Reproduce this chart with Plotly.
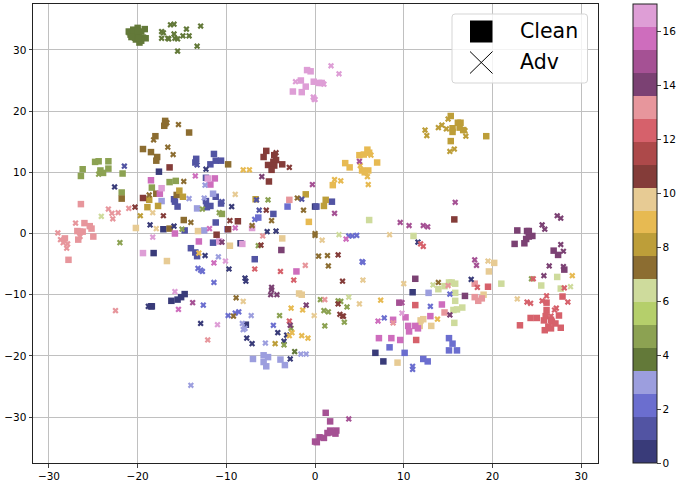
import plotly.graph_objects as go

clean_0 = [(-17.6,10.1),(-17.1,0.7),(0,4.4),(-18.2,-3.2),(-8.4,-1.6),(-18.5,-11.9),(-18.4,-11.9),(-16.2,-11),(-15.5,-10.8),(-15.1,-10.4),(-14.7,-9.9),(-7.8,-14.9),(6.8,-19.5),(7.7,-20.9),(11,-9.6)]
adv_0 = [(-22.6,7.6),(-12.3,10.5),(-18.6,1.4),(-15.9,1.2),(-9.4,4.4),(-5.4,0.3),(-4.4,0.4),(-9.7,-5.8),(-7.9,-7.3),(-7.8,-7.8),(-12.9,-14.7),(-7.7,-17.1),(-7.1,-18),(-2.8,-20.5),(-3.5,-17.6),(-3.2,-16.6),(-4.2,-16.2),(-18.8,-11.9),(-12.4,-3.6),(17.6,-7.5),(11.6,-1.4)]
clean_1 = [(-13.4,12.2),(-11.4,13),(-13.5,11.6),(-11.8,11.3),(-11.2,11.9),(-10.6,11.9),(-12.3,9.1),(-15.9,5.6),(-15.8,5.2),(-15.5,4.4),(-12.3,5.3),(-11.2,6),(-10.6,4.9),(-11.8,4.5),(-12.2,4.3),(-11.2,1.8),(-4.7,3.2),(-14.7,0.5),(-11.5,-1.5),(-14,-2.4),(-13.5,-3.1),(-13.3,-3.7),(-6.8,-4.2),(1.9,5.2),(0.15,4.4)]
adv_1 = [(-21.5,11),(-13.3,11.2),(-10.5,5.2),(-6.3,3.8),(-6.6,5.5),(-1.5,5.6)]
clean_2 = [(-3.1,4.4),(-6.4,2.6),(8.4,-18.6),(15.1,-17.1),(15.5,-18),(15.1,-19.1),(16,-19.1),(12.2,-20.5),(12.7,-20.9),(10.1,-19.5)]
adv_2 = [(-13.2,-5.7),(-12.9,-6),(-12.7,-6.2),(-11.4,-8),(-12.6,-11.7),(-9.8,-13.4),(-9,-13),(-8.6,-12.8),(-4.7,-15),(-6.8,2.3),(5.3,-4.6),(5.4,-4.7),(7.8,-13.8),(13,-11.9),(15.2,-9.9),(11,-21.7),(11,-22.2),(3.8,-0.4),(4.2,-0.4),(4.7,-0.3)]
clean_3 = [(-17.3,5.3),(-11.5,6.5),(-13.3,4.1),(-12.5,0.5),(-9.9,0.7),(-7,-20.5),(-5.8,-19.9),(-5.3,-20.2),(-5.8,-21),(-5.5,-21.7),(-3.9,-20.6),(-3.4,-21.5),(12.8,-9.7)]
adv_3 = [(-14.2,5.7),(-12.4,7.9),(-12.5,5.8),(-10.9,-3.8),(-14,-24.8),(-7.2,-13.4),(-8.2,-14.7),(-8.1,-15.7),(-7.9,-15.5),(-5.6,-17.9),(-1.6,-19.7),(-1,-19.7)]
clean_4 = [(-21,33),(-20.8,32.5),(-20.5,33.3),(-20.3,32),(-20,33.6),(-19.9,32.8),(-20.2,31.7),(-19.8,31.2),(-19.4,32),(-19.2,33.4),(-19.1,31.9),(-20.6,32.4),(-20.9,32.9),(-20.4,33),(-19.9,32.3),(-19.6,33),(-19.6,31.5),(-20,33.1),(-20.7,32.1),(-19.9,31.9)]
adv_4 = [(-17.3,33),(-17.1,32.8),(-17.3,31.9),(-16.6,31.9),(-16.3,34.1),(-15.9,34.2),(-15.9,32.6),(-16.5,31.8),(-15.8,31.9),(-15.5,31.8),(-14.9,32.3),(-14.2,32.3),(-14.5,33.4),(-12.9,33.9),(-13.3,30.6),(-15.5,29.8),(-2.3,-19.3)]
clean_5 = [(-26.2,10.5),(-26.4,9.4),(-24.8,11.7),(-24.4,11.8),(-23.3,11.8),(-23.3,10.6),(-24.2,10.3),(-23.9,9.9),(-21.7,9.8),(-21.8,6.7),(-16.4,8.4),(-15.7,8.6),(-18.4,7.5),(-10.5,3.2)]
adv_5 = [(-24.4,9.7),(-12.7,4),(-10.8,3.4),(-5.3,5.5),(-15,0.7),(-22,-1.5),(-6.4,-2),(-4,-13.4),(-3.5,-18.2),(-2.7,-15.5),(0.6,-10.8),(1,-12.6),(1.5,-12.8),(1.1,-15.1),(2.6,-11),(2.9,-11.1),(3.6,-12),(3.3,-14.5),(24.4,-7.4)]
clean_6 = [(6.1,2.2),(15.1,-8),(15.4,-8),(15.8,-8.2),(14.6,-8.6),(13.9,-9.1),(15.8,-9.7),(15.8,-11),(15.6,-12.5),(16,-12.4),(16.6,-12.1),(15.7,-14.6),(21,-8.2),(25.5,-8.5),(27.3,-7.1),(27.7,-9),(11.1,-0.4)]
adv_6 = [(-24.1,2.8),(3.8,-10.4),(2.7,-0.2),(13.3,-8.4),(28.8,-8.7)]
clean_7 = [(-16.9,18.4),(-17,17.6),(-16.9,18),(-18,15.9),(-14.2,16.5),(-19.4,13.8),(-18.5,13.3),(-17.8,12.5),(-17.9,11.9),(-9.8,11.3),(-21.8,5.7),(-17.9,6.5),(-15.6,6.3),(-14.8,2.2),(-16.4,0.8)]
adv_7 = [(-16.7,18.1),(-15.4,17.8),(-18.2,15.3),(-16.6,14.1),(-16,12.9),(-14.8,8.5),(-18.7,6.3),(-2,5.8),(-1.3,3.8),(-14,1.8),(-7.1,1.3),(-4.9,2.1),(0,0),(-8.9,-10.5),(-9.2,-13.5),(0,-0.3),(0.4,-3.7),(1.4,-3.6),(1.5,-5.3),(13.9,-8)]
clean_8 = [(-15.3,7),(-14.9,6),(-18.7,5.5),(-18.9,4.3),(-17.7,4.5),(-1.05,6.4),(-6.7,5.6),(1.2,5.5),(1,4.5),(15.3,19.2),(16.1,18.1),(16.4,18.1),(15.5,17.2),(15.5,16.6),(16.3,17.3),(16.7,16.9),(15.3,15.1),(19.3,15.9)]
adv_8 = [(12.4,16.9),(12.6,16),(13.9,17.3),(14.3,17.7),(14.8,17.1),(15,18.7),(16.9,16.8),(17,15.9),(15.2,13.4),(15.7,13.8),(-19.7,2.9),(-4.5,-18)]
clean_9 = [(5.9,13.7),(5,12.8),(5.5,12.9),(6.1,13.2),(3.4,11.5),(3.9,10.8),(7,11.6),(5.3,10.3),(5.6,10),(6,10.3),(2,7.9),(-0.7,1.9)]
adv_9 = [(5.1,11.1),(6.3,12.8),(5.9,9.3),(6,8),(2.2,8.8),(2.9,8.6),(-8.1,10.4),(-7.4,10.4),(-13.1,-3.2),(-2.7,-12.2),(-1.4,-12.5),(-1.5,-16.7),(-0.8,-17.1),(-2.6,-16.2),(-2.9,-16.7),(7.4,-10.9),(13.8,-14),(29,-6.9)]
clean_10 = [(-20.2,0.9),(-13.2,0.4),(-16.7,-4.5),(-9.6,-2),(-3.7,-0.8),(-1.8,-9.8),(-1.5,-10),(20.2,-4.8),(19.6,-6.2),(19,-10),(11.9,-14.2),(12.2,-14),(11.8,-15.1),(13.1,-15.1),(9.3,-21.1)]
adv_10 = [(-9,6.4),(-18.3,3.4),(-17.9,0.8),(-8.1,-11.1),(-0.1,-13.4),(0.8,-1.1),(5,-11.5),(5.4,-7.6),(10,-8.2),(8.4,-0.2),(19.5,-4.5),(22.8,-10.7)]
clean_11 = [(-5.5,13.5),(-5.8,12.5),(-4.6,12.8),(-4.4,12),(-4.7,11.7),(-5.3,11.2),(-4.6,11.1),(-3.7,11.3),(-4.9,10.4),(-5.2,8.5),(-16.4,10.8),(-19.4,5.8),(-11.1,-0.2),(-9.8,0.7),(-8.7,2),(15.7,2.3)]
adv_11 = [(-4.4,13.2),(-2.9,10.8),(-20.3,4.3),(-17.1,2.9),(-9.6,2.1),(-5.5,3.8),(-6.1,-1.9),(3.1,-7.8),(2.6,-3.5),(2.6,-11.5),(2.8,-13.2),(3.1,-13.5),(3.2,-13.5)]
clean_12 = [(19.5,-8.7),(11.3,-11.7),(11.4,-17.4),(23.1,-15),(24.3,-13.8),(25,-13.8),(26.1,-11.3),(26.1,-12.5),(26,-13.5),(25.8,-14.2),(26.6,-14.1),(27.5,-13.4),(26.7,-14.4),(27.1,-14.7),(26.3,-15.2),(26.6,-15.5),(27.7,-15.4),(25.9,-15.8),(27.9,-10.3)]
adv_12 = [(11.9,-1.7),(12.2,-2.1),(-6.8,-5.8),(-3.9,-6.2),(-2.4,-7.6),(-2.9,-14.3),(24.6,-7.4),(28.1,-8.9),(25.6,-11),(23.9,-11.2),(24.3,-11.4),(28.5,-11.2),(27.2,-12.2),(27,-12.5),(26.1,-10.2),(26.6,-13.5),(18.3,-8.8)]
clean_13 = [(-26.4,4.8),(-26,1.7),(-26.8,0.4),(-26.2,0.3),(-25.4,1.2),(-25.2,0.8),(-2.9,5.5),(-26.5,0.3),(-28.2,-0.8),(-26.7,-1),(-25,-0.5),(-27.8,-4.3),(14.6,-12.9),(18,-10.4),(18.4,-11),(18.8,-10.6),(18,-8.2)]
adv_13 = [(-23.3,4),(-22.2,3.4),(-21,4.1),(-22.9,3.3),(-22.8,2.4),(-27,1.7),(-29,0.1),(-28.7,-1),(-28.4,-1.5),(-27.9,-1.7),(-28,-2.4),(-26.5,-0.5),(-22.5,-12.6),(-12.1,-17.4),(-5.9,-0.4),(-1.1,-5.2),(1.1,-10.8),(8.8,-14.6),(15,-8.5)]
clean_14 = [(22.5,-1.7),(23.6,-1.6),(23.8,-0.9),(24.1,-0.5),(24.5,-0.4),(26.9,-2.8),(27.4,-3.5),(28.1,-5.9),(11.3,-7.4),(16.9,-10.2),(-3.8,-2.7),(22.8,0.5),(23.9,0.4),(24.1,0.4)]
adv_14 = [(-6,9.3),(-10.5,-1.4),(-4.9,-8.8),(-4.9,-9.2),(-5,-10),(-4.3,-10),(-1,-11.7),(-2.8,-15),(27.3,2.9),(27.7,2.5),(25.6,1.4),(25.9,0.7),(15.2,-13.3),(27.7,-1.8),(28,-2.9),(26.4,-5.3),(25.8,-6.9),(28,-5.4)]
clean_15 = [(1.2,-29.3),(1.7,-30.7),(1.7,-32.2),(2.4,-32.2),(1.4,-32.6),(2.3,-32.7),(1.9,-32.5),(0.5,-33.3),(1,-33.4),(0,-34),(0.2,-34.1),(9.5,-11.3)]
adv_15 = [(3.8,-30.3),(15.8,5.1),(9.6,1.8),(10.6,1.3),(12.2,1.3),(12.7,1.1),(-0.3,8),(5,11.8),(2.2,3.3),(-13.8,-11.3),(18,-4.3),(18.2,-5.2),(9.8,-11.3)]
clean_16 = [(-18.5,8.7),(-17.5,6.5),(-11.3,9),(-11.8,8),(-15.8,0),(-13.1,-1.3),(-2.1,-6.2),(14.3,-11.6),(13,-13.5),(10.2,-13.7),(8.8,-14.1),(10.5,-15.1),(11.3,-15.1),(11.6,-15.5),(10.6,-16),(7.2,-17.1),(8.6,-17.1),(9.6,-17.4)]
adv_16 = [(-13.5,9.4),(-11.9,0.8),(-9,0.9),(-11.4,-4.8),(-15.4,-12.4),(3.5,-0.9),(7.1,-14.3)]
clean_17 = [(-0.9,26.7),(-0.5,26.5),(-1.6,25),(-0.15,24.8),(0.45,24.6),(-1.05,24),(-2.5,23.2),(-1.5,23.1),(0.75,24.6),(-17.3,7.4),(-12.1,9),(-19.4,-3.2),(-10.8,-1.3),(-8.2,-1.7),(-7.1,0.9)]
adv_17 = [(-2.2,24.8),(-0.2,22.3),(-0.1,21.9),(1.8,27.4),(2.7,26.1),(1,24.4),(-0.15,22.2),(0,21.9),(-18.3,-0.6),(-11,-14.9),(-15.8,-9.5),(-10.1,-4.5),(9.8,-13)]

clean_groups = [clean_0,clean_1,clean_2,clean_3,clean_4,clean_5,clean_6,clean_7,clean_8,clean_9,clean_10,clean_11,clean_12,clean_13,clean_14,clean_15,clean_16,clean_17]
adv_groups = [adv_0,adv_1,adv_2,adv_3,adv_4,adv_5,adv_6,adv_7,adv_8,adv_9,adv_10,adv_11,adv_12,adv_13,adv_14,adv_15,adv_16,adv_17]

tab20b = ["#393b79","#5254a3","#6b6ecf","#9c9ede","#637939","#8ca252","#b5cf6b","#cedb9c",
          "#8c6d31","#bd9e39","#e7ba52","#e7cb94","#843c39","#ad494a","#d6616b","#e7969c",
          "#7b4173","#a55194","#ce6dbd","#de9ed6"]
scale = []
for i, col in enumerate(tab20b):
    scale.append([i/20, col])
    scale.append([(i+1)/20, col])

tick_vals = [-30,-20,-10,0,10,20,30]
cbar_ticks = [0,2,4,6,8,10,12,14,16]

def unpack(groups):
    xs, ys, cs = [], [], []
    for c, g in enumerate(groups):
        for x, y in g:
            xs.append(x); ys.append(y); cs.append(c)
    return xs, ys, cs

font = "DejaVu Sans"
fig = go.Figure()
cx, cy, cc = unpack(clean_groups)
ax, ay, ac = unpack(adv_groups)
fig.add_trace(go.Scatter(x=cx, y=cy, mode="markers", name="Clean", showlegend=False,
    marker=dict(symbol="square", size=6.5, color=cc, cmin=0, cmax=17, colorscale=scale, opacity=1,
        line=dict(width=0),
        colorbar=dict(x=1.062, xanchor="left", thickness=24, len=1, lenmode="fraction", y=0.5, ypad=0, xpad=0,
                      thicknessmode="pixels", tickvals=cbar_ticks, ticks="outside", ticklen=3.5, tickwidth=0.8,
                      outlinewidth=1, outlinecolor="#222", tickfont=dict(size=10.5, family=font, color="black")))))
fig.add_trace(go.Scatter(x=ax, y=ay, mode="markers", name="Adv", showlegend=False,
    marker=dict(symbol="x", size=5.5, color=ac, cmin=0, cmax=17, colorscale=scale, opacity=1,
        line=dict(width=0), showscale=False)))

axis = dict(tickvals=tick_vals, ticks="outside", ticklen=3.5, tickwidth=0.8, showgrid=True,
            gridcolor="#c0c0c0", gridwidth=1.2, zeroline=False, showline=True, linecolor="#222", linewidth=1,
            mirror=True, tickfont=dict(size=10.5, family=font, color="black"))

# legend panel, drawn in paper fractions of the plot area
W, H = 565.0, 459.0
def px(v): return (v-33)/W
def py(v): return 1-(v-4)/H
def rounded(l, t, r, b, a=3):
    return (f"M {px(l+a)} {py(t)} L {px(r-a)} {py(t)} Q {px(r)} {py(t)} {px(r)} {py(t+a)} "
            f"L {px(r)} {py(b-a)} Q {px(r)} {py(b)} {px(r-a)} {py(b)} "
            f"L {px(l+a)} {py(b)} Q {px(l)} {py(b)} {px(l)} {py(b-a)} "
            f"L {px(l)} {py(t+a)} Q {px(l)} {py(t)} {px(l+a)} {py(t)} Z")
shapes = [
    dict(type="path", xref="paper", yref="paper", path=rounded(452, 14, 587.5, 83),
         fillcolor="rgba(255,255,255,0.8)", line=dict(color="#d5d5d5", width=1)),
    dict(type="rect", xref="paper", yref="paper", x0=px(470), x1=px(492.5), y0=py(42.5), y1=py(20.5),
         fillcolor="black", line=dict(width=0)),
    dict(type="line", xref="paper", yref="paper", x0=px(470), x1=px(492.5), y0=py(73.5), y1=py(51.5),
         line=dict(color="black", width=1)),
    dict(type="line", xref="paper", yref="paper", x0=px(470), x1=px(492.5), y0=py(51.5), y1=py(73.5),
         line=dict(color="black", width=1)),
]
annotations = [
    dict(text="Clean", xref="paper", yref="paper", x=px(517.5), y=py(31.5), xanchor="left", yanchor="middle",
         showarrow=False, font=dict(size=20.5, family=font, color="black")),
    dict(text="Adv", xref="paper", yref="paper", x=px(517.5), y=py(62.5), xanchor="left", yanchor="middle",
         showarrow=False, font=dict(size=20.5, family=font, color="black")),
]

fig.update_layout(width=681, height=482, margin=dict(l=33, r=83, t=4, b=19, autoexpand=False), autosize=False,
                  plot_bgcolor="white", paper_bgcolor="white", showlegend=False,
                  xaxis=dict(range=[-31.8, 31.9], **axis),
                  yaxis=dict(range=[-37.5, 37.5], **axis),
                  shapes=shapes, annotations=annotations)
fig.write_html("out.html", config={"displayModeBar": False},
               post_script="document.body.style.margin='0';document.body.style.overflow='hidden';")
